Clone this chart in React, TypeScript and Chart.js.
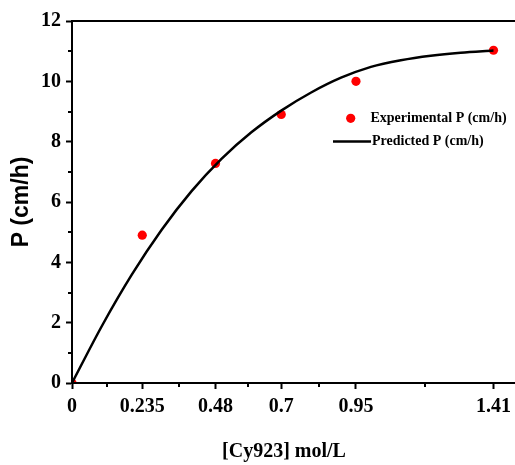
import React, { useEffect, useRef } from "react";
import { Chart, registerables } from "chart.js";

Chart.register(...registerables);

const xTickValues = [0, 0.235, 0.48, 0.7, 0.95, 1.41];
const xTickLabels = ["0", "0.235", "0.48", "0.7", "0.95", "1.41"];
const yMinorTicks = [1, 3, 5, 7, 9, 11];

const expX = [0, 0.235, 0.48, 0.7, 0.95, 1.41];
const expY = [0, 4.9, 7.28, 8.9, 10.0, 11.03];

const predX = [0, 0.1, 0.2, 0.3, 0.4, 0.5, 0.6, 0.7, 0.8, 0.9, 1.0, 1.1, 1.2, 1.3, 1.41];
const predY = [0, 1.89, 3.59, 5.08, 6.36, 7.43, 8.31, 9.03, 9.63, 10.12, 10.48, 10.7, 10.85, 10.95, 11.02];

const seriesNames = ["Experimental P (cm/h)", "Predicted P (cm/h)"];
const xTitle = "[Cy923] mol/L";
const yTitle = "P (cm/h)";

const SERIF = '"Liberation Serif", "Times New Roman", serif';
const SANS = '"Liberation Sans", Arial, sans-serif';

const framePlugin = {
  id: "frameExtras",
  afterDraw(chart: any) {
    const { ctx, chartArea: a, scales } = chart;
    const xs = scales.x;
    const ys = scales.y;
    ctx.save();
    ctx.strokeStyle = "#000";
    ctx.lineWidth = 2;
    ctx.beginPath();
    ctx.moveTo(a.left - 1, a.top);
    ctx.lineTo(a.right, a.top);
    ctx.lineTo(a.right, a.bottom);
    ctx.stroke();

    // minor ticks
    ctx.beginPath();
    for (let i = 0; i < xTickValues.length - 1; i++) {
      const px = Math.round(xs.getPixelForValue((xTickValues[i] + xTickValues[i + 1]) / 2));
      ctx.moveTo(px, a.bottom);
      ctx.lineTo(px, a.bottom + 4);
    }
    for (const v of yMinorTicks) {
      const py = Math.round(ys.getPixelForValue(v));
      ctx.moveTo(a.left, py);
      ctx.lineTo(a.left - 4, py);
    }
    ctx.stroke();

    // x title
    ctx.fillStyle = "#000";
    ctx.font = `bold 20px ${SERIF}`;
    ctx.textAlign = "center";
    ctx.textBaseline = "middle";
    ctx.fillText(xTitle, 284, 452);

    // legend
    const ds0 = chart.data.datasets[0];
    const ds1 = chart.data.datasets[1];
    ctx.fillStyle = ds0.backgroundColor;
    ctx.beginPath();
    ctx.arc(350.7, 118.3, 4.6, 0, Math.PI * 2);
    ctx.fill();
    ctx.strokeStyle = ds1.borderColor;
    ctx.lineWidth = 2.5;
    ctx.beginPath();
    ctx.moveTo(333, 141.5);
    ctx.lineTo(371, 141.5);
    ctx.stroke();
    ctx.fillStyle = "#000";
    ctx.font = `bold 14px ${SERIF}`;
    ctx.textAlign = "left";
    ctx.textBaseline = "middle";
    ctx.fillText(ds0.label, 370.5, 118.5);
    ctx.fillText(ds1.label, 372, 141.5);
    ctx.restore();
  },
};

export default function App() {
  const ref = useRef<HTMLCanvasElement>(null);

  useEffect(() => {
    if (!ref.current) return;
    const chart = new Chart(ref.current, {
      type: "scatter",
      data: {
        datasets: [
          {
            label: seriesNames[0],
            data: expX.map((x, i) => ({ x, y: expY[i] })),
            backgroundColor: "#ff0000",
            borderColor: "#ff0000",
            pointRadius: 4.6,
            pointBorderWidth: 0,
            showLine: false,
            clip: 0,
            order: 1,
          },
          {
            label: seriesNames[1],
            data: predX.map((x, i) => ({ x, y: predY[i] })),
            borderColor: "#000000",
            backgroundColor: "#000000",
            borderWidth: 2.5,
            pointRadius: 0,
            showLine: true,
            tension: 0.4,
            cubicInterpolationMode: "monotone",
            order: 0,
          },
        ],
      },
      options: {
        responsive: false,
        animation: false,
        layout: { padding: { top: 21, right: 2, left: 0, bottom: 0 } },
        plugins: {
          legend: { display: false },
          tooltip: { enabled: false },
        },
        scales: {
          x: {
            type: "linear",
            min: 0,
            max: 1.5,
            afterBuildTicks: (s: any) => {
              s.ticks = xTickValues.map((v) => ({ value: v }));
            },
            afterFit: (s: any) => {
              s.height = 82;
            },
            ticks: {
              autoSkip: false,
              maxRotation: 0,
              color: "#000",
              padding: 6,
              font: { family: SERIF, size: 20, weight: "bold" },
              callback: (v: any) => {
                const i = xTickValues.indexOf(Number(v));
                return i >= 0 ? xTickLabels[i] : "";
              },
            },
            grid: {
              drawOnChartArea: false,
              drawTicks: true,
              tickLength: 6,
              tickWidth: 2,
              tickColor: "#000",
            },
            border: { display: true, color: "#000", width: 2, z: 1 },
          },
          y: {
            type: "linear",
            min: 0,
            max: 12,
            afterFit: (s: any) => {
              s.width = 72;
            },
            ticks: {
              stepSize: 2,
              color: "#000",
              padding: 5,
              font: { family: SERIF, size: 20, weight: "bold" },
            },
            grid: {
              drawOnChartArea: false,
              drawTicks: true,
              tickLength: 6,
              tickWidth: 2,
              tickColor: "#000",
            },
            border: { display: true, color: "#000", width: 2, z: 1 },
            title: {
              display: true,
              text: yTitle,
              color: "#000",
              font: { family: SANS, size: 23, weight: "bold" },
              padding: { top: 8, bottom: 0 },
            },
          },
        },
      },
      plugins: [framePlugin],
    } as any);
    return () => chart.destroy();
  }, []);

  return (
    <div style={{ position: "fixed", left: 0, top: 0, width: 515, height: 465, overflow: "hidden", background: "#fff" }}>
      <canvas ref={ref} width={525} height={465} style={{ display: "block", width: 525, height: 465 }} />
    </div>
  );
}
